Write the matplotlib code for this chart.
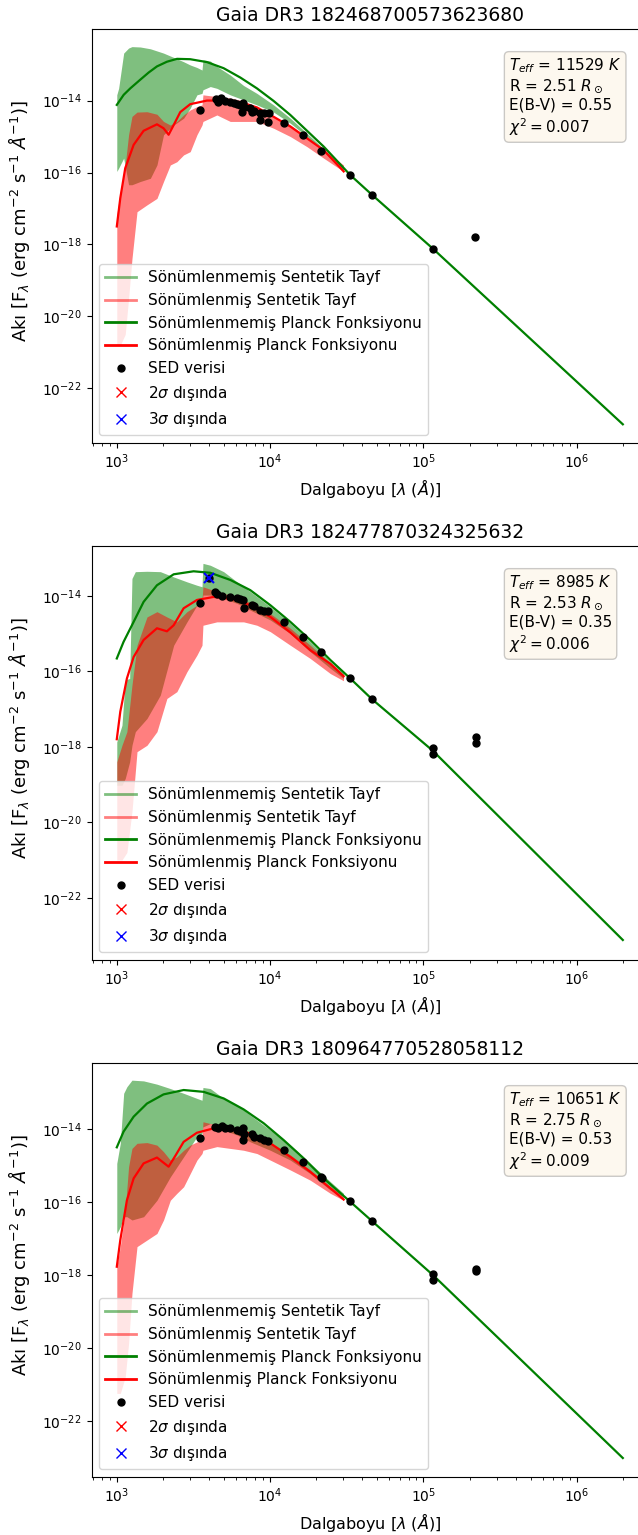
"""SED fits of three Gaia DR3 stars: synthetic spectra, Planck curves and photometry."""
import numpy as np
import matplotlib
matplotlib.use("Agg")
import matplotlib.pyplot as plt
from matplotlib.lines import Line2D

# ---- shared ----
TITLES = ["Gaia DR3 182468700573623680",
          "Gaia DR3 182477870324325632",
          "Gaia DR3 180964770528058112"]
INFO = [r"$T_{eff}$ = 11529 $K$" "\n" r"R = 2.51 $R_\odot$" "\n" "E(B-V) = 0.55" "\n" r"$\chi^2 = 0.007$",
        r"$T_{eff}$ = 8985 $K$" "\n" r"R = 2.53 $R_\odot$" "\n" "E(B-V) = 0.35" "\n" r"$\chi^2 = 0.006$",
        r"$T_{eff}$ = 10651 $K$" "\n" r"R = 2.75 $R_\odot$" "\n" "E(B-V) = 0.53" "\n" r"$\chi^2 = 0.009$"]
YLIMS = [(-23.52, -12.01), (-23.65, -12.68), (-23.53, -12.19)]   # log10 flux

# ---- panel 1 (wavelength in Angstrom, flux as log10 erg/cm2/s/A) ----
P1_UNRED_WL = [1000, 1028, 1109, 1194, 1256, 1422, 1656, 1828, 2018, 2350, 2729, 3013, 3334,
               3597, 3648, 4074, 4498, 5495, 6714, 8204, 10544, 13552, 17378, 22336, 30130]
P1_UNRED_HI = [-13.84, -13.66, -12.68, -12.54, -12.50, -12.51, -12.56, -12.62, -12.68, -12.80,
               -12.92, -13.01, -13.08, -13.15, -12.87, -12.90, -13.05, -13.29, -13.58, -13.80,
               -14.12, -14.49, -14.91, -15.34, -15.88]
P1_UNRED_LO = [-15.97, -15.88, -15.60, -16.34, -16.34, -16.25, -16.16, -15.79, -14.95, -14.68,
               -14.49, -14.21, -13.84, -13.80, -13.70, -13.61, -13.66, -13.84, -13.98, -14.12,
               -14.32, -14.63, -15.00, -15.42, -15.93]
P1_RED_WL = [1000, 1054, 1135, 1194, 1256, 1355, 1574, 1828, 2018, 2234, 2466, 2729, 3013,
             3334, 3597, 3648, 4498, 5495, 6714, 8204, 10544, 13552, 17378, 22336, 30130]
P1_RED_HI = [-17.18, -16.53, -15.79, -14.95, -14.44, -14.32, -14.31, -14.38, -14.58, -14.68,
             -14.58, -14.40, -14.26, -14.17, -14.12, -13.84, -13.89, -13.93, -14.01, -14.17,
             -14.44, -14.68, -15.00, -15.37, -15.79]
P1_RED_LO = [-20.8, -20.8, -20.5, -19.5, -18.4, -17.09, -16.90, -16.72, -16.25, -15.79,
             -15.70, -15.51, -15.42, -14.95, -14.68, -14.58, -14.40, -14.58, -14.58, -14.58,
             -14.77, -15.00, -15.28, -15.60, -15.97]
P1_BB_WL = [1000, 1109, 1225, 1422, 1614, 1828, 2123, 2472, 3013, 3873, 4977, 6397, 8204,
            10544, 13552, 17418, 22387, 33343, 46238, 115600, 2000000]
P1_BB = [-14.12, -13.84, -13.66, -13.42, -13.22, -13.05, -12.92, -12.84, -12.85, -12.93,
         -13.10, -13.36, -13.66, -14.01, -14.40, -14.84, -15.28, -16.07, -16.62, -18.12, -23.00]
P1_BBRED_WL = [1000, 1054, 1135, 1288, 1496, 1828, 2018, 2178, 2350, 2594, 3013, 3873, 4977,
               6397, 8204, 10544, 13552, 17418, 22387, 30200]
P1_BBRED = [-17.50, -16.71, -15.88, -15.23, -14.84, -14.66, -14.77, -14.95, -14.68, -14.32,
            -14.10, -14.00, -14.00, -14.05, -14.19, -14.45, -14.72, -15.05, -15.38, -15.97]
P1_SED_WL = [3508, 4457, 4571, 4808, 5105, 5508, 5781, 6081, 6397, 6668, 6561, 6714, 7430,
             7621, 7798, 8630, 8630, 9078, 9638, 9772, 12417, 16368, 21528, 33343, 46238,
             115611, 218273]
P1_SED = [-14.27, -13.95, -14.03, -13.93, -14.01, -14.03, -14.07, -14.10, -14.12, -14.07,
          -14.32, -14.19, -14.21, -14.32, -14.29, -14.35, -14.54, -14.35, -14.60, -14.35,
          -14.63, -14.95, -15.40, -16.07, -16.62, -18.12, -17.79]
P1_OUT3_WL, P1_OUT3 = [], []

# ---- panel 2 ----
P2_UNRED_WL = [1000, 1081, 1135, 1213, 1256, 1321, 1574, 1923, 2350, 2870, 3334, 3597, 3648,
               4074, 4977, 6081, 7430, 10030, 13552, 18280, 24720, 30130]
P2_UNRED_HI = [-17.87, -17.43, -16.23, -16.19, -13.54, -13.36, -13.35, -13.36, -13.50, -13.63,
               -13.72, -13.76, -13.14, -13.19, -13.36, -13.63, -13.89, -14.29, -14.73, -15.22,
               -15.75, -16.06]
P2_UNRED_LO = [-19.02, -19.02, -18.84, -18.40, -17.96, -17.60, -17.25, -16.63, -15.31, -14.69,
               -14.25, -14.20, -13.98, -13.98, -14.07, -14.20, -14.38, -14.64, -15.00, -15.48,
               -15.92, -16.19]
P2_RED_WL = [1000, 1081, 1164, 1256, 1355, 1574, 1828, 2123, 2466, 2870, 3334, 3597, 3648,
             4498, 5495, 6714, 8204, 10030, 13552, 18280, 24720, 30130]
P2_RED_HI = [-18.40, -17.96, -17.60, -16.37, -15.31, -14.56, -14.42, -14.56, -14.69, -14.42,
             -14.25, -14.11, -13.76, -13.89, -13.98, -14.11, -14.25, -14.47, -14.86, -15.31,
             -15.80, -16.10]
P2_RED_LO = [-21.0, -21.0, -20.8, -19.72, -18.13, -17.96, -17.60, -16.72, -16.54, -16.01,
             -15.57, -15.31, -14.78, -14.69, -14.69, -14.69, -14.78, -14.95, -15.31, -15.66,
             -16.06, -16.25]
P2_BB_WL = [1000, 1107, 1288, 1496, 1828, 2350, 3170, 4074, 5508, 7430, 10046, 13552, 18281,
            24717, 33343, 46238, 115600, 2000000]
P2_BB = [-15.66, -15.22, -14.69, -14.16, -13.72, -13.43, -13.35, -13.39, -13.58, -13.85,
         -14.25, -14.69, -15.17, -15.70, -16.19, -16.74, -18.11, -23.12]
P2_BBRED_WL = [1000, 1054, 1164, 1288, 1496, 1828, 2123, 2350, 2729, 3334, 4276, 5508, 7430,
               10046, 13552, 18281, 24717, 30200]
P2_BBRED = [-17.80, -17.07, -16.19, -15.62, -15.17, -14.86, -14.94, -14.78, -14.33, -14.11,
            -14.03, -14.07, -14.25, -14.56, -14.97, -15.44, -15.80, -16.13]
P2_SED_WL = [3508, 3972, 4395, 4508, 4853, 5508, 6081, 6397, 6668, 6714, 7621, 7798, 8630,
             9078, 9638, 12417, 16368, 21528, 33343, 46238, 115611, 115611, 220290, 220290]
P2_SED = [-14.20, -13.54, -13.89, -13.96, -14.00, -14.03, -14.07, -14.09, -14.11, -14.32,
          -14.25, -14.28, -14.38, -14.40, -14.41, -14.69, -15.09, -15.50, -16.19, -16.74,
          -18.02, -18.20, -17.75, -17.91]
P2_OUT3_WL, P2_OUT3 = [3972], [-13.54]

# ---- panel 3 ----
P3_UNRED_WL = [1000, 1054, 1109, 1164, 1256, 1496, 1828, 2234, 2729, 3334, 3597, 3648, 4074,
               4977, 6081, 7430, 10030, 13552, 18280, 24720, 30130]
P3_UNRED_HI = [-14.94, -14.39, -13.02, -12.84, -12.66, -12.68, -12.77, -12.89, -13.02, -13.16,
               -13.21, -12.86, -12.89, -13.16, -13.34, -13.62, -14.03, -14.44, -14.94, -15.44,
               -15.76]
P3_UNRED_LO = [-16.86, -16.68, -16.40, -16.40, -16.49, -16.40, -15.95, -15.31, -14.76, -14.21,
               -14.12, -13.94, -13.85, -14.03, -14.16, -14.35, -14.58, -14.85, -15.22, -15.67,
               -15.85]
P3_RED_WL = [1000, 1054, 1135, 1194, 1256, 1355, 1574, 1828, 2018, 2234, 2466, 2729, 3013,
             3334, 3597, 3648, 4498, 5495, 6714, 8204, 10030, 13552, 18280, 24720, 30130]
P3_RED_HI = [-17.77, -17.22, -16.22, -15.03, -14.53, -14.39, -14.37, -14.44, -14.62, -14.85,
             -14.76, -14.58, -14.44, -14.35, -14.30, -13.80, -13.89, -13.94, -14.03, -14.16,
             -14.39, -14.71, -15.12, -15.58, -15.81]
P3_RED_LO = [-21.24, -21.24, -20.79, -19.87, -18.50, -17.22, -17.04, -16.86, -16.49, -15.95,
             -15.76, -15.58, -15.22, -14.85, -14.67, -14.58, -14.48, -14.53, -14.58, -14.67,
             -14.85, -15.12, -15.40, -15.76, -15.95]
P3_BB_WL = [1000, 1107, 1288, 1574, 2018, 2729, 3681, 4977, 6714, 9078, 12246, 16558, 22387,
            33343, 46238, 115600, 2000000]
P3_BB = [-14.50, -14.07, -13.66, -13.30, -13.05, -12.93, -12.98, -13.16, -13.46, -13.84,
         -14.30, -14.80, -15.35, -15.99, -16.52, -18.00, -23.01]
P3_BBRED_WL = [1000, 1054, 1164, 1288, 1496, 1828, 2178, 2427, 2729, 3334, 4276, 5508, 7430,
               10046, 13552, 18281, 24717, 30200]
P3_BBRED = [-17.77, -17.04, -15.95, -15.35, -14.94, -14.78, -15.03, -14.71, -14.35, -14.10,
            -13.98, -13.98, -14.12, -14.39, -14.76, -15.17, -15.62, -15.93]
P3_SED_WL = [3508, 4395, 4571, 4853, 5105, 5508, 6081, 6397, 6668, 6668, 6714, 7621, 7798,
             8630, 9078, 9638, 12417, 16368, 21528, 21878, 33343, 46238, 115611, 115611,
             220290, 220290]
P3_SED = [-14.25, -13.94, -13.98, -13.92, -13.98, -13.98, -14.03, -14.05, -13.98, -14.30,
          -14.14, -14.14, -14.21, -14.25, -14.30, -14.32, -14.56, -14.90, -15.31, -15.35,
          -15.97, -16.52, -17.97, -18.14, -17.84, -17.88]
P3_OUT3_WL, P3_OUT3 = [], []

LABELS = ["Sönümlenmemiş Sentetik Tayf", "Sönümlenmiş Sentetik Tayf",
          "Sönümlenmemiş Planck Fonksiyonu", "Sönümlenmiş Planck Fonksiyonu",
          "SED verisi", r"2$\sigma$ dışında", r"3$\sigma$ dışında"]

PANELS = [
    (P1_UNRED_WL, P1_UNRED_HI, P1_UNRED_LO, P1_RED_WL, P1_RED_HI, P1_RED_LO,
     P1_BB_WL, P1_BB, P1_BBRED_WL, P1_BBRED, P1_SED_WL, P1_SED, P1_OUT3_WL, P1_OUT3),
    (P2_UNRED_WL, P2_UNRED_HI, P2_UNRED_LO, P2_RED_WL, P2_RED_HI, P2_RED_LO,
     P2_BB_WL, P2_BB, P2_BBRED_WL, P2_BBRED, P2_SED_WL, P2_SED, P2_OUT3_WL, P2_OUT3),
    (P3_UNRED_WL, P3_UNRED_HI, P3_UNRED_LO, P3_RED_WL, P3_RED_HI, P3_RED_LO,
     P3_BB_WL, P3_BB, P3_BBRED_WL, P3_BBRED, P3_SED_WL, P3_SED, P3_OUT3_WL, P3_OUT3),
]


def p(v):
    return 10.0 ** np.asarray(v, float)


def draw(ax, data, title, info, ylim):
    (uwl, uhi, ulo, rwl, rhi, rlo, bwl, bb, brwl, bbr, swl, sed, owl, out3) = data
    ax.fill_between(uwl, p(ulo), p(uhi), color="green", alpha=0.5, lw=0)
    ax.fill_between(rwl, p(rlo), p(rhi), color="red", alpha=0.5, lw=0)
    ax.plot(bwl, p(bb), color="green", lw=1.6)
    ax.plot(brwl, p(bbr), color="red", lw=1.6)
    ax.plot(swl, p(sed), "o", color="black", ms=5)
    ax.plot([], [], "x", color="red", ms=7)
    ax.plot(owl, p(out3), "x", color="blue", ms=7, mew=1.5)
    ax.set_xscale("log")
    ax.set_yscale("log")
    ax.set_xlim(10 ** 2.835, 10 ** 6.466)
    ax.set_ylim(10 ** ylim[0], 10 ** ylim[1])
    ax.set_title(title, fontsize=13.5)
    ax.set_xlabel(r"Dalgaboyu [$\lambda$ ($\AA$)]", fontsize=11.5)
    ax.set_ylabel(r"Akı [F$_\lambda$ (erg cm$^{-2}$ s$^{-1}$ $\AA^{-1}$)]", fontsize=13)
    ax.yaxis.set_label_coords(-0.107, 0.535)
    ax.tick_params(labelsize=10)
    ax.text(0.75, 0.935, info, transform=ax.transAxes, fontsize=11, va="top", ha="left",
            bbox=dict(boxstyle="round", facecolor="wheat", alpha=0.2))
    handles = [Line2D([], [], color="green", alpha=0.5, lw=2),
               Line2D([], [], color="red", alpha=0.5, lw=2),
               Line2D([], [], color="green", lw=2),
               Line2D([], [], color="red", lw=2),
               Line2D([], [], color="black", marker="o", ls="", ms=5),
               Line2D([], [], color="red", marker="x", ls="", ms=7),
               Line2D([], [], color="blue", marker="x", ls="", ms=7)]
    ax.legend(handles, LABELS, loc="lower left", fontsize=11)


W, H = 638, 1535
fig = plt.figure(figsize=(W / 100, H / 100), dpi=100)
tops = [29, 546, 1063]
for i, top in enumerate(tops):
    ax = fig.add_axes([91.5 / W, 1 - (top + 414) / H, 556.6 / W, 414 / H])
    draw(ax, PANELS[i], TITLES[i], INFO[i], YLIMS[i])

fig.savefig("out.png", dpi=100)
